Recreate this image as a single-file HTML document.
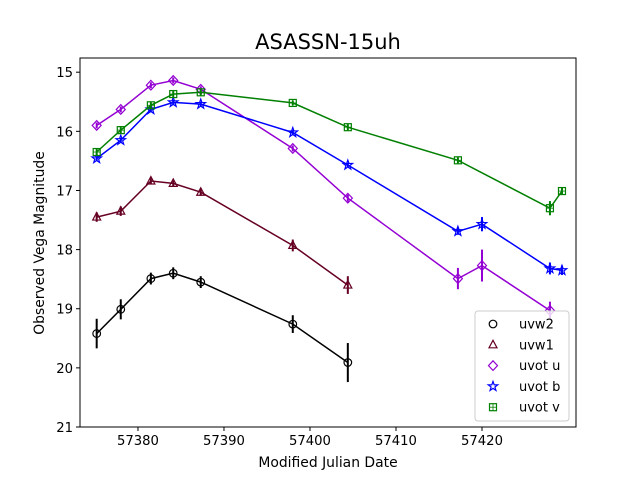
<!DOCTYPE html>
<html><head><meta charset="utf-8"><style>
body{margin:0;background:#fff}
svg text{font-family:"DejaVu Sans","Liberation Sans",sans-serif}
</style></head><body>
<svg id="chart" width="640" height="480" xmlns="http://www.w3.org/2000/svg">
<rect width="640" height="480" fill="#fff"/>
<text x="328" y="49" font-size="21" text-anchor="middle">ASASSN-15uh</text>
<g id="marks"></g>
<rect x="80" y="58" width="496" height="369" fill="none" stroke="#000" stroke-width="1"/>
<g id="axes"></g>
<text x="328" y="467" font-size="13.9" text-anchor="middle">Modified Julian Date</text>
<text transform="translate(44,243) rotate(-90)" font-size="13.9" text-anchor="middle">Observed Vega Magnitude</text>
<g id="legend"></g>
</svg>
<script>
const seriesNames=["uvw2","uvw1","uvot u","uvot b","uvot v"];
const w2Mjd=[57375.2,57378.0,57381.5,57384.1,57387.3,57398.0,57404.4];
const w2Mag=[19.42,19.01,18.49,18.40,18.55,19.26,19.91];
const w2Err=[0.25,0.17,0.1,0.1,0.1,0.15,0.33];
const w1Mjd=[57375.2,57378.0,57381.5,57384.1,57387.3,57398.0,57404.4];
const w1Mag=[17.45,17.35,16.84,16.88,17.03,17.93,18.60];
const w1Err=[0.08,0.08,0.05,0.05,0.06,0.1,0.15];
const uMjd=[57375.2,57378.0,57381.5,57384.1,57387.3,57398.0,57404.4,57417.2,57420.0,57427.9];
const uMag=[15.90,15.63,15.22,15.14,15.29,16.29,17.13,18.49,18.27,19.03];
const uErr=[0.05,0.05,0.05,0.05,0.05,0.05,0.06,0.18,0.27,0.15];
const bMjd=[57375.2,57378.0,57381.5,57384.1,57387.3,57398.0,57404.4,57417.2,57420.0,57427.9,57429.3];
const bMag=[16.46,16.15,15.63,15.51,15.54,16.02,16.57,17.69,17.57,18.32,18.35];
const bErr=[0.04,0.04,0.04,0.04,0.04,0.04,0.04,0.06,0.12,0.1,0.08];
const vMjd=[57375.2,57378.0,57381.5,57384.1,57387.3,57398.0,57404.4,57417.2,57427.9,57429.3];
const vMag=[16.35,15.98,15.56,15.37,15.34,15.52,15.93,16.49,17.30,17.01];
const vErr=[0.05,0.05,0.05,0.05,0.05,0.04,0.05,0.05,0.12,0.06];
const xTicks=[57380,57390,57400,57410,57420];
const yTicks=[15,16,17,18,19,20,21];

const NS="http://www.w3.org/2000/svg";
const X0=80,X1=576,Y0=58,Y1=427;
const xMin=57373.26,xMax=57430.93,yMin=14.76,yMax=21;
function xs(v){return X0+(v-xMin)/(xMax-xMin)*(X1-X0);}
function ys(v){return Y0+(v-yMin)/(yMax-yMin)*(Y1-Y0);}
function mk(tag,attrs,parent){const e=document.createElementNS(NS,tag);for(const k in attrs)e.setAttribute(k,attrs[k]);parent.appendChild(e);return e;}
function marker(type,cx,cy,color,parent){
  let e;
  if(type==="circle"){e=mk("circle",{cx:cx,cy:cy,r:3.8,fill:"none",stroke:color,"stroke-width":1.2},parent);}
  else if(type==="tri"){e=mk("polygon",{points:`${cx},${cy-4.5} ${cx-4},${cy+3} ${cx+4},${cy+3}`,fill:"none",stroke:color,"stroke-width":1.2},parent);}
  else if(type==="diamond"){e=mk("polygon",{points:`${cx},${cy-4.8} ${cx+4.5},${cy} ${cx},${cy+4.8} ${cx-4.5},${cy}`,fill:"none",stroke:color,"stroke-width":1.2},parent);}
  else if(type==="star"){let p=[];for(let i=0;i<10;i++){const r=i%2?2:5;const a=-Math.PI/2+i*Math.PI/5;p.push((cx+r*Math.cos(a)).toFixed(2)+","+(cy+r*Math.sin(a)).toFixed(2));}
    e=mk("polygon",{points:p.join(" "),fill:"none",stroke:color,"stroke-width":1.2},parent);}
  else {e=mk("rect",{x:cx-3.5,y:cy-3.5,width:7,height:7,fill:"none",stroke:color,"stroke-width":1.2},parent);
    mk("line",{x1:cx-3.5,y1:cy,x2:cx+3.5,y2:cy,stroke:color,"stroke-width":0.8},parent);
    mk("line",{x1:cx,y1:cy-3.5,x2:cx,y2:cy+3.5,stroke:color,"stroke-width":0.8},parent);}
  return e;
}
const series=[
 {name:seriesNames[0],x:w2Mjd,y:w2Mag,e:w2Err,color:"#000000",m:"circle",key:"uvw2"},
 {name:seriesNames[1],x:w1Mjd,y:w1Mag,e:w1Err,color:"#660022",m:"tri",key:"uvw1"},
 {name:seriesNames[2],x:uMjd,y:uMag,e:uErr,color:"#9400d3",m:"diamond",key:"uvot-u"},
 {name:seriesNames[3],x:bMjd,y:bMag,e:bErr,color:"#0000ff",m:"star",key:"uvot-b"},
 {name:seriesNames[4],x:vMjd,y:vMag,e:vErr,color:"#008000",m:"square",key:"uvot-v"}
];
const marks=document.getElementById("marks");
series.forEach(s=>{
  const g=mk("g",{},marks);
  
  
  const pts=s.x.map((v,i)=>xs(v).toFixed(1)+","+ys(s.y[i]).toFixed(1)).join(" ");
  const pl=mk("polyline",{points:pts,fill:"none",stroke:s.color,"stroke-width":1.5},g);
  
  
  s.x.forEach((v,i)=>{
    const cx=xs(v),cy=ys(s.y[i]);
    const eb=mk("line",{x1:cx,x2:cx,y1:ys(s.y[i]-s.e[i]),y2:ys(s.y[i]+s.e[i]),stroke:s.color,"stroke-width":2},g);
    
    
    const p=marker(s.m,cx,cy,s.color,g);
    
    
  });
});
const axes=document.getElementById("axes");
xTicks.forEach(t=>{
  const x=xs(t);
  mk("line",{x1:x,x2:x,y1:Y1,y2:Y1+4,stroke:"#000"},axes);
  const tx=mk("text",{x:x,y:Y1+18,"font-size":13.2,"text-anchor":"middle"},axes);
  tx.textContent=t;
  
  
});
yTicks.forEach(t=>{
  const y=ys(t);
  mk("line",{x1:X0-4,x2:X0,y1:y,y2:y,stroke:"#000"},axes);
  const tx=mk("text",{x:X0-7,y:y+5,"font-size":13.2,"text-anchor":"end"},axes);
  tx.textContent=t;
  
  
});
const lg=document.getElementById("legend");


mk("rect",{x:475,y:311,width:94,height:110,rx:3,fill:"#fff","fill-opacity":0.8,stroke:"#ccc"},lg);
series.forEach((s,i)=>{
  const y=324+i*20.8;
  const e=mk("g",{},lg);
  
  
  marker(s.m,493,y,s.color,e);
  const tx=mk("text",{x:519,y:y+4.5,"font-size":13,"fill":"#000"},e);
  tx.textContent=s.name;
});
</script>
</body></html>
